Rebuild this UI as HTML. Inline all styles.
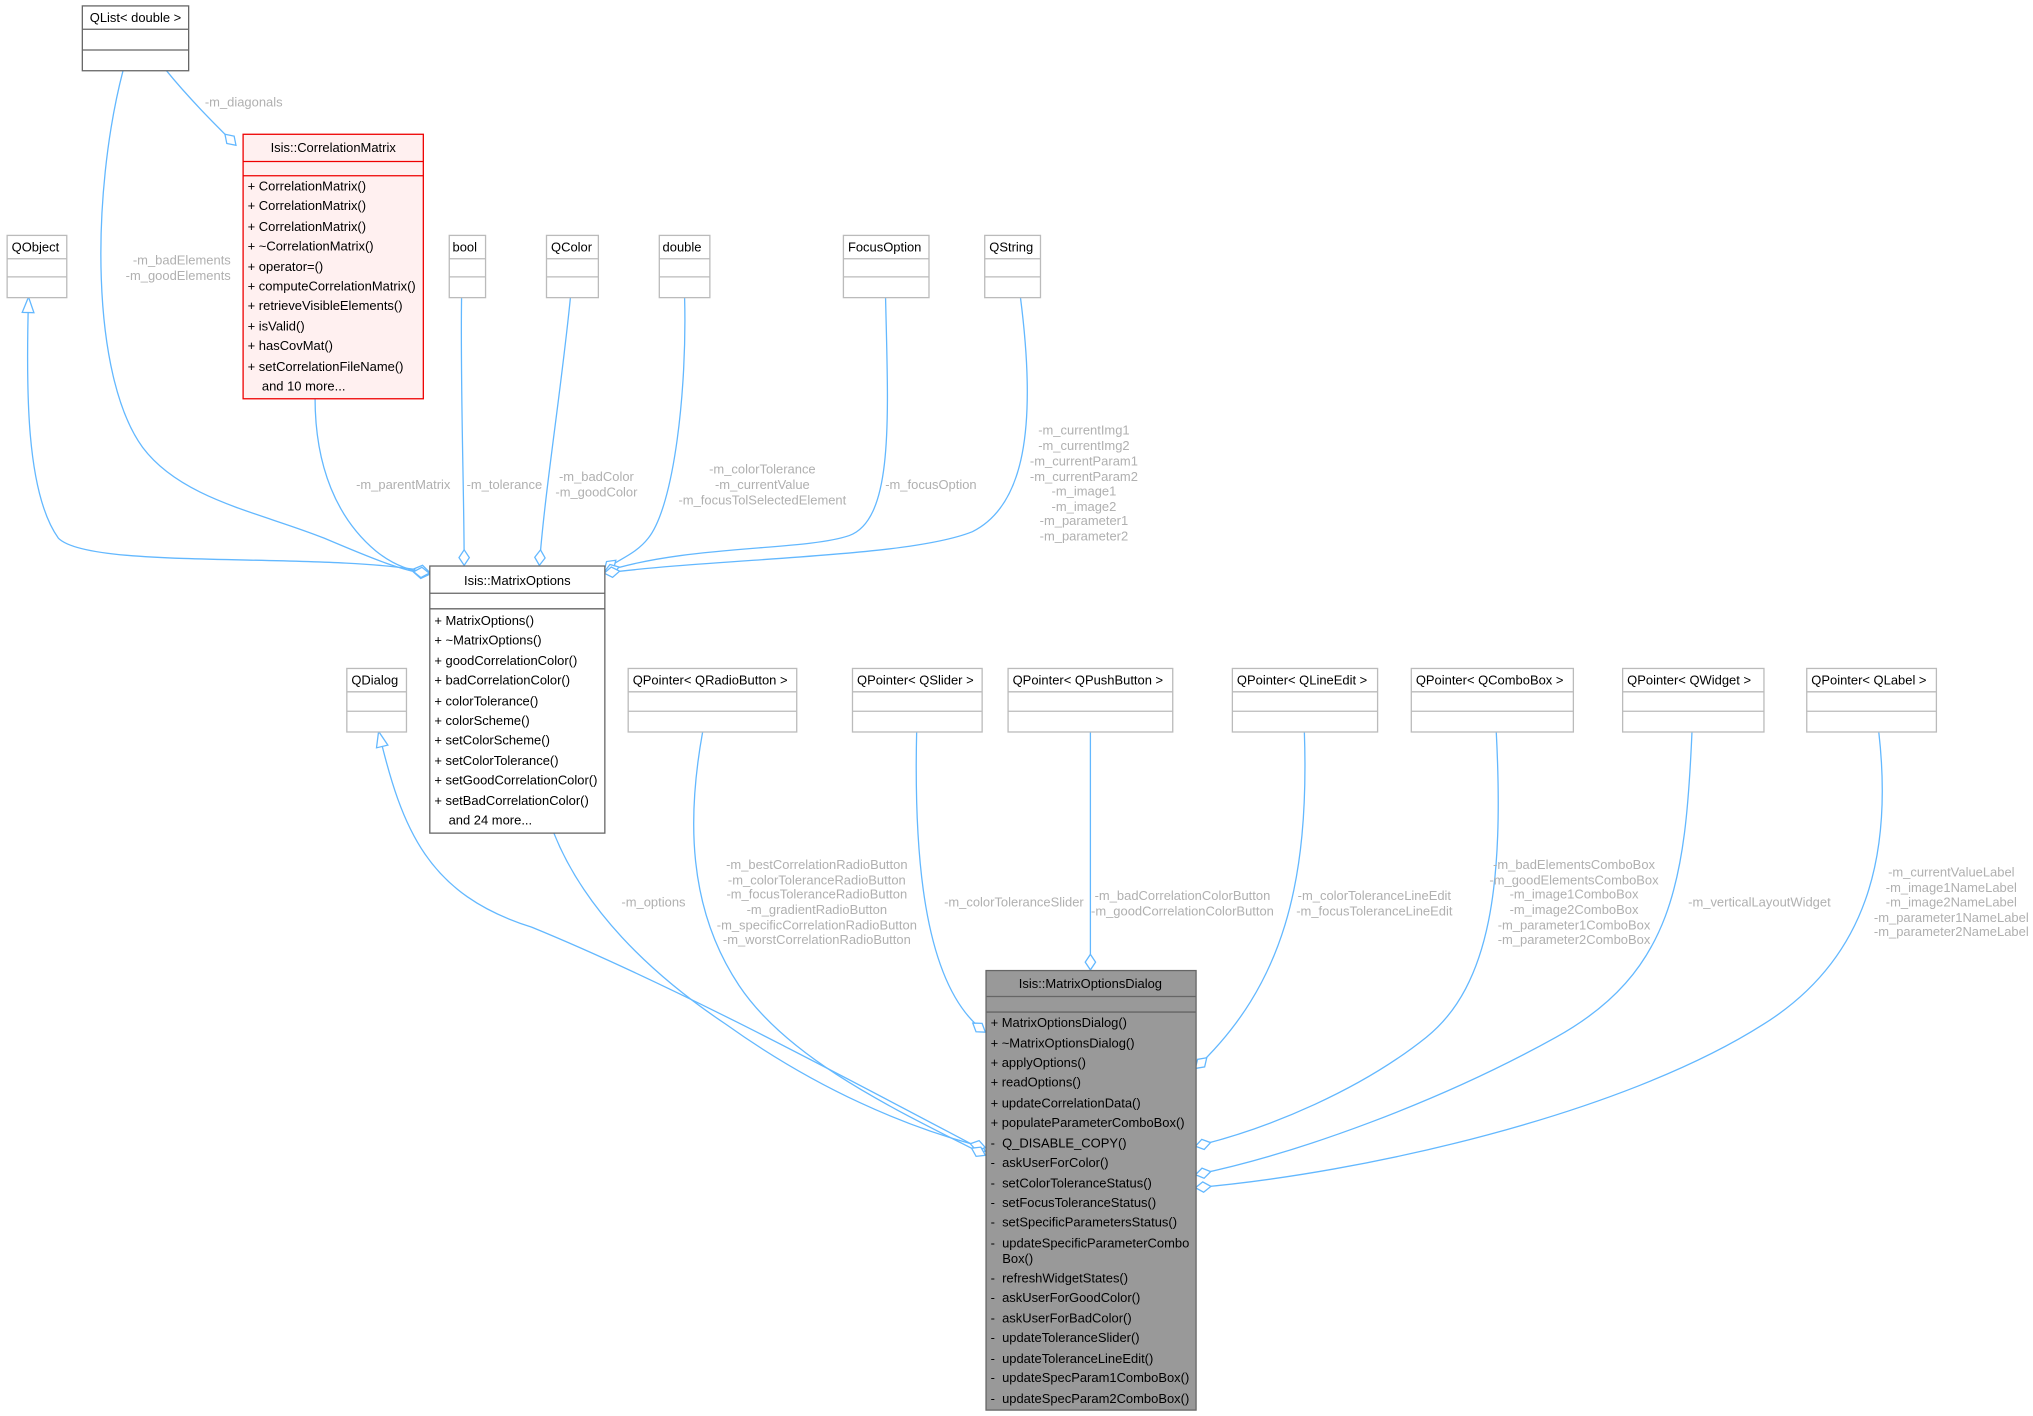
<!DOCTYPE html>
<html><head><meta charset="utf-8"><style>
html,body{margin:0;padding:0;background:#fff;}
svg{display:block;}
text{font-family:"Liberation Sans",Helvetica,Arial,sans-serif;font-size:10px;white-space:pre;}
.l{fill:#b0b0b0;}
.e{fill:none;stroke:#63b8ff;stroke-width:1;}
</style></head><body>
<svg width="2033" height="1416" viewBox="0 0 1568 1092" xmlns="http://www.w3.org/2000/svg">
<defs>
<marker id="dm" markerUnits="userSpaceOnUse" markerWidth="16" markerHeight="12" refX="12" refY="5" orient="auto" style="overflow:visible">
<path d="M0,5 L6,1 L12,5 L6,9 Z" fill="#fff" stroke="#63b8ff" stroke-width="1"/></marker>
<marker id="tr" markerUnits="userSpaceOnUse" markerWidth="16" markerHeight="12" refX="12" refY="5" orient="auto-start-reverse" style="overflow:visible">
<path d="M0,0.5 L12,5 L0,9.5 Z" fill="#fff" stroke="#63b8ff" stroke-width="1"/></marker>
</defs>

<path class="e" d="M128,54 C145,75 165,95 182,112" marker-end="url(#dm)"/>
<path class="e" d="M95,54 C70,150 70,290 110,345 C140,385 200,395 250,415 C290,432 310,440 331,443" marker-end="url(#dm)"/>
<path class="e" d="M22,229 C20,300 20,380 45,415 C70,440 250,425 331,441" marker-start="url(#tr)" marker-end="url(#dm)"/>
<path class="e" d="M243,307 C243,360 260,400 290,425 C305,437 320,441 331,442" marker-end="url(#dm)"/>
<path class="e" d="M356,229 C355,300 358,380 358,436" marker-end="url(#dm)"/>
<path class="e" d="M440,229 C433,300 420,380 416,436" marker-end="url(#dm)"/>
<path class="e" d="M528,229 C530,300 520,390 500,415 C490,428 475,432 466,440" marker-end="url(#dm)"/>
<path class="e" d="M683,229 C685,320 690,400 655,413 C620,425 530,420 466,441" marker-end="url(#dm)"/>
<path class="e" d="M787,229 C800,330 790,390 750,410 C700,430 560,430 466,442" marker-end="url(#dm)"/>
<path class="e" d="M292,564 C310,640 330,690 410,715 C520,760 650,830 760,888" marker-start="url(#tr)" marker-end="url(#dm)"/>
<path class="e" d="M427,642 C450,700 500,750 560,790 C630,840 700,870 760,885" marker-end="url(#dm)"/>
<path class="e" d="M542,564 C530,630 530,700 570,760 C610,820 700,860 760,891" marker-end="url(#dm)"/>
<path class="e" d="M707,564 C705,650 710,760 760,796" marker-end="url(#dm)"/>
<path class="e" d="M841,564 L841,748" marker-end="url(#dm)"/>
<path class="e" d="M1006,564 C1010,680 990,760 922,824" marker-end="url(#dm)"/>
<path class="e" d="M1154,564 C1160,680 1150,760 1100,800 C1050,840 980,870 922,884" marker-end="url(#dm)"/>
<path class="e" d="M1305,564 C1300,680 1290,750 1200,800 C1110,850 1000,890 922,906" marker-end="url(#dm)"/>
<path class="e" d="M1449,564 C1460,660 1440,740 1360,790 C1250,860 1050,905 922,916" marker-end="url(#dm)"/>

<text class="l" x="158" y="82">-m_diagonals</text>
<g class="l" text-anchor="end"><text x="178" y="204">-m_badElements</text><text x="178" y="216">-m_goodElements</text></g>
<text class="l" x="311" y="377" text-anchor="middle">-m_parentMatrix</text>
<text class="l" x="389" y="377" text-anchor="middle">-m_tolerance</text>
<g class="l" text-anchor="middle"><text x="460" y="371">-m_badColor</text><text x="460" y="383">-m_goodColor</text></g>
<g class="l" text-anchor="middle"><text x="588" y="365">-m_colorTolerance</text><text x="588" y="377">-m_currentValue</text><text x="588" y="389">-m_focusTolSelectedElement</text></g>
<text class="l" x="718" y="377" text-anchor="middle">-m_focusOption</text>
<g class="l" text-anchor="middle"><text x="836" y="335">-m_currentImg1</text><text x="836" y="347">-m_currentImg2</text><text x="836" y="359">-m_currentParam1</text><text x="836" y="371">-m_currentParam2</text><text x="836" y="382">-m_image1</text><text x="836" y="394">-m_image2</text><text x="836" y="405">-m_parameter1</text><text x="836" y="417">-m_parameter2</text></g>
<text class="l" x="504" y="699" text-anchor="middle">-m_options</text>
<g class="l" text-anchor="middle"><text x="630" y="670">-m_bestCorrelationRadioButton</text><text x="630" y="682">-m_colorToleranceRadioButton</text><text x="630" y="693">-m_focusToleranceRadioButton</text><text x="630" y="705">-m_gradientRadioButton</text><text x="630" y="717">-m_specificCorrelationRadioButton</text><text x="630" y="728">-m_worstCorrelationRadioButton</text></g>
<text class="l" x="782" y="699" text-anchor="middle">-m_colorToleranceSlider</text>
<g class="l" text-anchor="middle"><text x="912" y="694">-m_badCorrelationColorButton</text><text x="912" y="706">-m_goodCorrelationColorButton</text></g>
<g class="l" text-anchor="middle"><text x="1060" y="694">-m_colorToleranceLineEdit</text><text x="1060" y="706">-m_focusToleranceLineEdit</text></g>
<g class="l" text-anchor="middle"><text x="1214" y="670">-m_badElementsComboBox</text><text x="1214" y="682">-m_goodElementsComboBox</text><text x="1214" y="693">-m_image1ComboBox</text><text x="1214" y="705">-m_image2ComboBox</text><text x="1214" y="717">-m_parameter1ComboBox</text><text x="1214" y="728">-m_parameter2ComboBox</text></g>
<text class="l" x="1357" y="699" text-anchor="middle">-m_verticalLayoutWidget</text>
<g class="l" text-anchor="middle"><text x="1505" y="676">-m_currentValueLabel</text><text x="1505" y="688">-m_image1NameLabel</text><text x="1505" y="699">-m_image2NameLabel</text><text x="1505" y="711">-m_parameter1NameLabel</text><text x="1505" y="722">-m_parameter2NameLabel</text></g>

<g fill="#fff" stroke="#666">
<rect x="63.5" y="4.5" width="82" height="50"/><path d="M63.5,22.5H145.5M63.5,38.5H145.5"/>
</g>
<text x="104.5" y="17" text-anchor="middle">QList&lt; double &gt;</text>

<g fill="#fff0f0" stroke="#e00">
<rect x="187.5" y="103.5" width="139" height="204"/><path d="M187.5,124.5H326.5M187.5,135.5H326.5"/>
</g>
<text x="257" y="117" text-anchor="middle">Isis::CorrelationMatrix</text>
<g>
<text x="191" y="147">+ CorrelationMatrix()</text>
<text x="191" y="162">+ CorrelationMatrix()</text>
<text x="191" y="178">+ CorrelationMatrix()</text>
<text x="191" y="193">+ ~CorrelationMatrix()</text>
<text x="191" y="209">+ operator=()</text>
<text x="191" y="224">+ computeCorrelationMatrix()</text>
<text x="191" y="239">+ retrieveVisibleElements()</text>
<text x="191" y="255">+ isValid()</text>
<text x="191" y="270">+ hasCovMat()</text>
<text x="191" y="286">+ setCorrelationFileName()</text>
<text x="202" y="301">and 10 more...</text>
</g>

<g fill="#fff" stroke="#bbb">
<rect x="5.5" y="181.5" width="46" height="48"/><path d="M5.5,199.5H51.5M5.5,213.5H51.5"/>
<rect x="346.5" y="181.5" width="28" height="48"/><path d="M346.5,199.5H374.5M346.5,213.5H374.5"/>
<rect x="421.5" y="181.5" width="40" height="48"/><path d="M421.5,199.5H461.5M421.5,213.5H461.5"/>
<rect x="508.5" y="181.5" width="39" height="48"/><path d="M508.5,199.5H547.5M508.5,213.5H547.5"/>
<rect x="650.5" y="181.5" width="66" height="48"/><path d="M650.5,199.5H716.5M650.5,213.5H716.5"/>
<rect x="759.5" y="181.5" width="43" height="48"/><path d="M759.5,199.5H802.5M759.5,213.5H802.5"/>
<rect x="267.5" y="515.5" width="46" height="49"/><path d="M267.5,533.5H313.5M267.5,548.5H313.5"/>
<rect x="484.5" y="515.5" width="130" height="49"/><path d="M484.5,533.5H614.5M484.5,548.5H614.5"/>
<rect x="657.5" y="515.5" width="100" height="49"/><path d="M657.5,533.5H757.5M657.5,548.5H757.5"/>
<rect x="777.5" y="515.5" width="127" height="49"/><path d="M777.5,533.5H904.5M777.5,548.5H904.5"/>
<rect x="950.5" y="515.5" width="112" height="49"/><path d="M950.5,533.5H1062.5M950.5,548.5H1062.5"/>
<rect x="1088.5" y="515.5" width="125" height="49"/><path d="M1088.5,533.5H1213.5M1088.5,548.5H1213.5"/>
<rect x="1251.5" y="515.5" width="109" height="49"/><path d="M1251.5,533.5H1360.5M1251.5,548.5H1360.5"/>
<rect x="1393.5" y="515.5" width="100" height="49"/><path d="M1393.5,533.5H1493.5M1393.5,548.5H1493.5"/>
</g>
<text x="9" y="194">QObject</text>
<text x="349" y="194">bool</text>
<text x="425" y="194">QColor</text>
<text x="511" y="194">double</text>
<text x="654" y="194">FocusOption</text>
<text x="763" y="194">QString</text>
<text x="271" y="528">QDialog</text>
<text x="488" y="528">QPointer&lt; QRadioButton &gt;</text>
<text x="661" y="528">QPointer&lt; QSlider &gt;</text>
<text x="781" y="528">QPointer&lt; QPushButton &gt;</text>
<text x="954" y="528">QPointer&lt; QLineEdit &gt;</text>
<text x="1092" y="528">QPointer&lt; QComboBox &gt;</text>
<text x="1255" y="528">QPointer&lt; QWidget &gt;</text>
<text x="1397" y="528">QPointer&lt; QLabel &gt;</text>

<g fill="#fff" stroke="#666">
<rect x="331.5" y="436.5" width="135" height="206"/><path d="M331.5,457.5H466.5M331.5,469.5H466.5"/>
</g>
<text x="399" y="451" text-anchor="middle">Isis::MatrixOptions</text>
<g>
<text x="335" y="482">+ MatrixOptions()</text>
<text x="335" y="497">+ ~MatrixOptions()</text>
<text x="335" y="513">+ goodCorrelationColor()</text>
<text x="335" y="528">+ badCorrelationColor()</text>
<text x="335" y="544">+ colorTolerance()</text>
<text x="335" y="559">+ colorScheme()</text>
<text x="335" y="574">+ setColorScheme()</text>
<text x="335" y="590">+ setColorTolerance()</text>
<text x="335" y="605">+ setGoodCorrelationColor()</text>
<text x="335" y="621">+ setBadCorrelationColor()</text>
<text x="346" y="636">and 24 more...</text>
</g>

<g fill="#999" stroke="#666">
<rect x="760.5" y="748.5" width="162" height="339"/><path d="M760.5,768.5H922.5M760.5,780.5H922.5"/>
</g>
<text x="841" y="762" text-anchor="middle">Isis::MatrixOptionsDialog</text>
<g>
<text x="764" y="792">+ MatrixOptionsDialog()</text>
<text x="764" y="808">+ ~MatrixOptionsDialog()</text>
<text x="764" y="823">+ applyOptions()</text>
<text x="764" y="838">+ readOptions()</text>
<text x="764" y="854">+ updateCorrelationData()</text>
<text x="764" y="869">+ populateParameterComboBox()</text>
<text x="764" y="885">-  Q_DISABLE_COPY()</text>
<text x="764" y="900">-  askUserForColor()</text>
<text x="764" y="916">-  setColorToleranceStatus()</text>
<text x="764" y="931">-  setFocusToleranceStatus()</text>
<text x="764" y="946">-  setSpecificParametersStatus()</text>
<text x="764" y="962">-  updateSpecificParameterCombo</text>
<text x="773" y="974">Box()</text>
<text x="764" y="989">-  refreshWidgetStates()</text>
<text x="764" y="1004">-  askUserForGoodColor()</text>
<text x="764" y="1020">-  askUserForBadColor()</text>
<text x="764" y="1035">-  updateToleranceSlider()</text>
<text x="764" y="1051">-  updateToleranceLineEdit()</text>
<text x="764" y="1066">-  updateSpecParam1ComboBox()</text>
<text x="764" y="1082">-  updateSpecParam2ComboBox()</text>
</g>
</svg>
</body></html>
